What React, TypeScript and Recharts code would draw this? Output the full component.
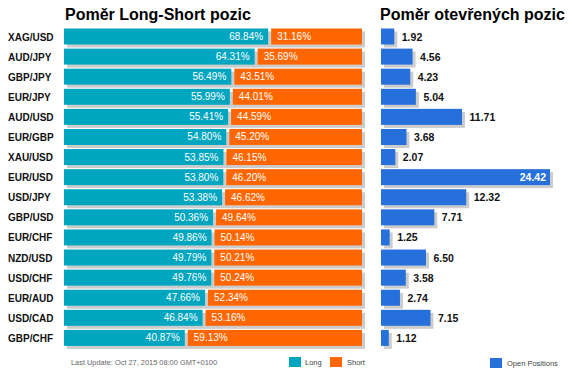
import { BarChart, Bar, XAxis, YAxis, LabelList } from "recharts";

const pairs = [
  "XAG/USD", "AUD/JPY", "GBP/JPY", "EUR/JPY", "AUD/USD", "EUR/GBP", "XAU/USD", "EUR/USD",
  "USD/JPY", "GBP/USD", "EUR/CHF", "NZD/USD", "USD/CHF", "EUR/AUD", "USD/CAD", "GBP/CHF",
];
const longPct = [68.84, 64.31, 56.49, 55.99, 55.41, 54.8, 53.85, 53.8, 53.38, 50.36, 49.86, 49.79, 49.76, 47.66, 46.84, 40.87];
const shortPct = [31.16, 35.69, 43.51, 44.01, 44.59, 45.2, 46.15, 46.2, 46.62, 49.64, 50.14, 50.21, 50.24, 52.34, 53.16, 59.13];
const openPositions = [1.92, 4.56, 4.23, 5.04, 11.71, 3.68, 2.07, 24.42, 12.32, 7.71, 1.25, 6.5, 3.58, 2.74, 7.15, 1.12];

const lsData = pairs.map((pair, i) => ({ pair, long: longPct[i], short: shortPct[i] }));
const opData = pairs.map((pair, i) => ({ pair, open: openPositions[i] }));

const FONT = '"Liberation Sans", Arial, sans-serif';
const CYAN = "#00a6c0";
const ORANGE = "#ff6600";
const BLUE = "#2670dc";
const SHADOW = "#cccccc";

const LongShape = (props: any) => {
  const { x, y, width, height, payload } = props;
  const full = (width * (payload.long + payload.short)) / payload.long;
  return (
    <g>
      <rect x={x + 3} y={y + 3} width={full} height={height} fill={SHADOW} />
      <rect x={x} y={y} width={Math.max(width - 1, 0)} height={height} fill={CYAN} />
    </g>
  );
};

const ShortShape = (props: any) => {
  const { x, y, width, height } = props;
  return <rect x={x + 2} y={y} width={Math.max(width - 2, 0)} height={height} fill={ORANGE} />;
};

const OpenShape = (props: any) => {
  const { x, y, width, height } = props;
  return (
    <g>
      <rect x={x + 3} y={y + 3} width={width} height={height} fill={SHADOW} />
      <rect x={x} y={y} width={width} height={height} fill={BLUE} />
    </g>
  );
};

const longLabel = (props: any) => {
  const { x, y, width, height, value } = props;
  return (
    <text x={x + width - 6} y={y + height / 2} dy={3.5} textAnchor="end" fontSize={10} fill="#fff" fontFamily={FONT}>
      {value.toFixed(2)}%
    </text>
  );
};

const shortLabel = (props: any) => {
  const { x, y, height, value } = props;
  return (
    <text x={x + 8} y={y + height / 2} dy={3.5} textAnchor="start" fontSize={10} fill="#fff" fontFamily={FONT}>
      {value.toFixed(2)}%
    </text>
  );
};

const openLabel = (props: any) => {
  const { x, y, width, height, value } = props;
  // the longest bar has no room on the right, so its label goes inside
  if (value > 20) {
    return (
      <text x={x + width - 4} y={y + height / 2} dy={4} textAnchor="end" fontSize={10.5} fontWeight="bold" fill="#fff" fontFamily={FONT}>
        {value.toFixed(2)}
      </text>
    );
  }
  return (
    <text x={x + width + 7.5} y={y + height / 2} dy={4} textAnchor="start" fontSize={10.5} fontWeight="bold" fill="#111" fontFamily={FONT}>
      {value.toFixed(2)}
    </text>
  );
};

const PairTick = ({ y, payload }: any) => (
  <text x={8} y={y} dy={4} fontSize={10} fontWeight="bold" fill="#111" fontFamily={FONT}>
    {payload.value}
  </text>
);

export default function App() {
  return (
    <div style={{ position: "absolute", left: 0, top: 0, width: 572, height: 374, background: "#fff", fontFamily: FONT }}>
      <div style={{ position: "absolute", left: 0, top: 0 }}>
        <BarChart
          width={372}
          height={374}
          data={lsData}
          layout="vertical"
          margin={{ top: 26.5, right: 10, left: 8, bottom: 26 }}
        >
          <XAxis type="number" domain={[0, 100]} hide />
          <YAxis
            type="category"
            dataKey="pair"
            width={56}
            axisLine={false}
            tickLine={false}
            interval={0}
            tick={<PairTick />}
          />
          <Bar dataKey="long" stackId="ls" barSize={16} shape={<LongShape />} isAnimationActive={false}>
            <LabelList dataKey="long" content={longLabel} />
          </Bar>
          <Bar dataKey="short" stackId="ls" barSize={16} shape={<ShortShape />} isAnimationActive={false}>
            <LabelList dataKey="short" content={shortLabel} />
          </Bar>
        </BarChart>
      </div>
      <div style={{ position: "absolute", left: 372, top: 0 }}>
        <BarChart
          width={200}
          height={374}
          data={opData}
          layout="vertical"
          margin={{ top: 26.5, right: 18, left: 9, bottom: 26 }}
        >
          <XAxis type="number" domain={[0, 25]} hide />
          <YAxis type="category" dataKey="pair" hide />
          <Bar dataKey="open" barSize={16} shape={<OpenShape />} isAnimationActive={false}>
            <LabelList dataKey="open" content={openLabel} />
          </Bar>
        </BarChart>
      </div>
      <svg width={572} height={374} style={{ position: "absolute", left: 0, top: 0, pointerEvents: "none" }}>
        <text x={65} y={20} fontSize={16} fontWeight="bold" fill="#000" fontFamily={FONT}>
          Poměr Long-Short pozic
        </text>
        <text x={380} y={20} fontSize={16} fontWeight="bold" fill="#000" fontFamily={FONT}>
          Poměr otevřených pozic
        </text>
        <text x={71} y={365} fontSize={7.4} fill="#666" fontFamily={FONT}>
          Last Update: Oct 27, 2015 08:00 GMT+0100
        </text>
        <rect x={289} y={357} width={12} height={10} fill={CYAN} />
        <text x={305} y={365} fontSize={7.5} fill="#444" fontFamily={FONT}>Long</text>
        <rect x={330} y={357} width={12} height={10} fill={ORANGE} />
        <text x={347} y={365} fontSize={7.5} fill="#444" fontFamily={FONT}>Short</text>
        <rect x={490} y={358} width={12} height={10} fill={BLUE} />
        <text x={507} y={366} fontSize={7.5} fill="#444" fontFamily={FONT}>Open Positions</text>
      </svg>
    </div>
  );
}
